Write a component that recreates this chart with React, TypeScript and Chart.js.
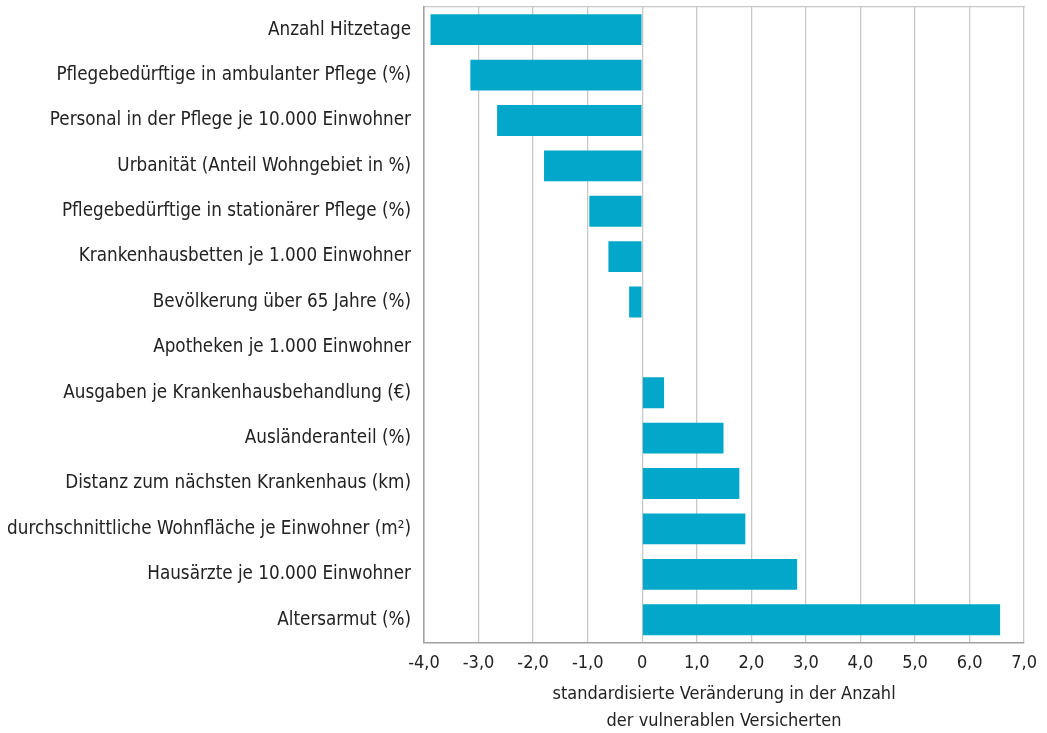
import React, { useEffect, useRef } from "react";
import { Chart, registerables } from "chart.js";

Chart.register(...registerables);

const categories: string[] = [
  "Anzahl Hitzetage",
  "Pflegebedürftige in ambulanter Pflege (%)",
  "Personal in der Pflege je 10.000 Einwohner",
  "Urbanität (Anteil Wohngebiet in %)",
  "Pflegebedürftige in stationärer Pflege (%)",
  "Krankenhausbetten je 1.000 Einwohner",
  "Bevölkerung über 65 Jahre (%)",
  "Apotheken je 1.000 Einwohner",
  "Ausgaben je Krankenhausbehandlung (€)",
  "Ausländeranteil (%)",
  "Distanz zum nächsten Krankenhaus (km)",
  "durchschnittliche Wohnfläche je Einwohner (m²)",
  "Hausärzte je 10.000 Einwohner",
  "Altersarmut (%)",
];

const values: number[] = [
  -3.88, -3.15, -2.66, -1.8, -0.97, -0.62, -0.24, 0, 0.4, 1.49, 1.78, 1.89, 2.84, 6.56,
];

const axisTitle: string[] = [
  "standardisierte Veränderung in der Anzahl",
  "der vulnerablen Versicherten",
];

const xMin = -4;
const xMax = 7;

const FONT = "'DejaVu Sans Condensed', 'DejaVu Sans', sans-serif";

export default function App() {
  const ref = useRef<HTMLCanvasElement | null>(null);

  useEffect(() => {
    document.body.style.margin = "0";
    const ctx = ref.current!;
    const chart = new Chart(ctx, {
      type: "bar",
      data: {
        labels: categories,
        datasets: [
          {
            data: values,
            backgroundColor: "#02a7c9",
            borderWidth: 0,
            barPercentage: 0.68,
            categoryPercentage: 1,
          },
        ],
      },
      options: {
        indexAxis: "y",
        animation: false,
        responsive: false,
        maintainAspectRatio: false,
        layout: { padding: { top: 7, right: 22, bottom: 0, left: 0 } },
        plugins: {
          legend: { display: false },
          tooltip: { enabled: false },
        },
        scales: {
          x: {
            type: "linear",
            min: xMin,
            max: xMax,
            ticks: {
              stepSize: 1,
              color: "#222",
              padding: 10,
              font: { family: FONT, size: 18 },
              callback: (v: any) => (Number(v) === 0 ? "0" : Number(v).toFixed(1).replace(".", ",")),
            },
            grid: { color: "#c8c8c8", lineWidth: 1.3, drawTicks: false },
            border: { display: true, color: "#a0a0a0", width: 1.5 },
            title: {
              display: true,
              text: axisTitle,
              color: "#222",
              font: { family: FONT, size: 18, lineHeight: 1.5 },
              padding: { top: -3, bottom: -2 },
            },
          },
          x2: {
            type: "linear",
            position: "top",
            min: xMin,
            max: xMax,
            ticks: { display: false },
            grid: { display: false, drawTicks: false },
            border: { display: true, color: "#c8c8c8", width: 1.3 },
          },
          y: {
            afterFit: (axis: any) => {
              axis.width = 424;
              axis.paddingTop = 0;
              axis.paddingBottom = 0;
            },
            ticks: {
              color: "#222",
              padding: 13,
              font: { family: FONT, size: 18.7 },
            },
            grid: { display: false, drawTicks: false },
            border: { display: true, color: "#a0a0a0", width: 1.5 },
          },
        },
      },
    });
    return () => chart.destroy();
  }, []);

  return (
    <div style={{ position: "absolute", left: 0, top: 0, width: 1047, height: 733 }}>
      <canvas ref={ref} width={1047} height={733} style={{ width: 1047, height: 733 }} />
    </div>
  );
}
